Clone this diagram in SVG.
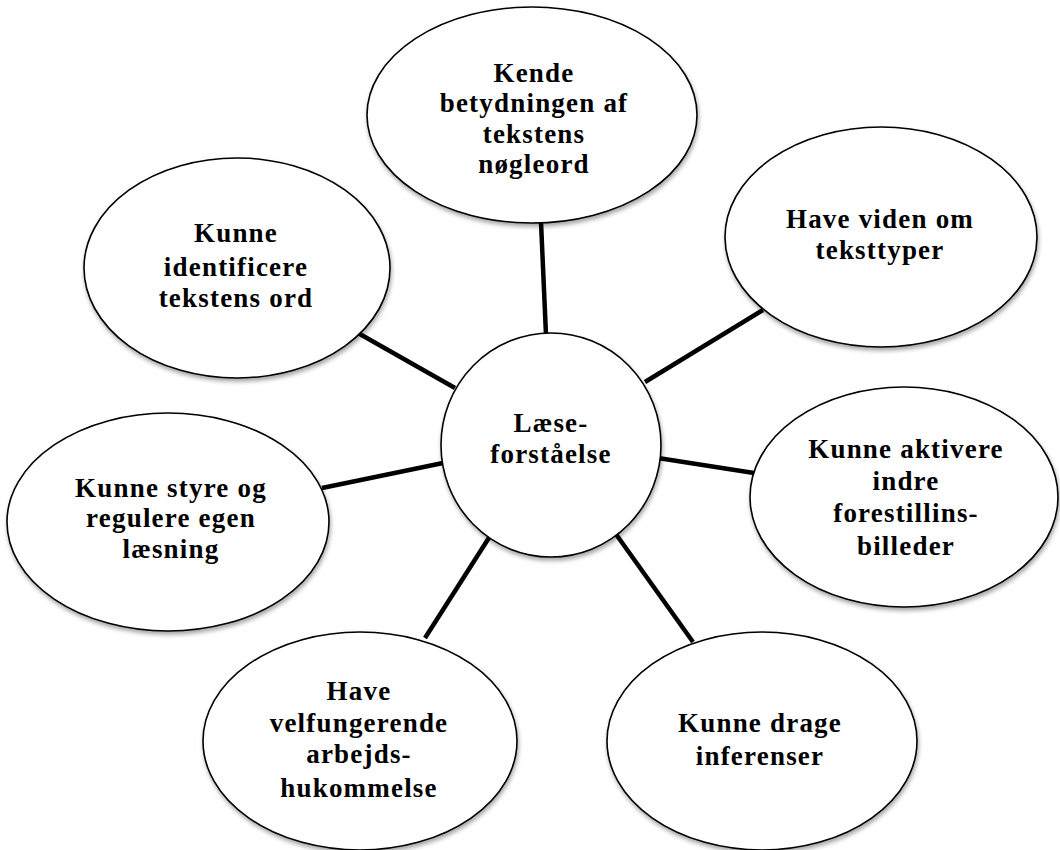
<svg xmlns="http://www.w3.org/2000/svg" width="1060" height="850" viewBox="0 0 1060 850">
<defs>
<filter id="sh" x="-10%" y="-10%" width="120%" height="125%">
<feDropShadow dx="1" dy="3" stdDeviation="2" flood-color="#000" flood-opacity="0.35"/>
</filter>
</defs>
<style>
.n{fill:#fff;stroke:#000;stroke-width:1.6;filter:url(#sh)}
.t{font-family:"Liberation Serif","Times New Roman",serif;font-weight:bold;font-size:27px;letter-spacing:1.2px;fill:#000;text-anchor:middle}
.c line{stroke:#000;stroke-width:4.5}
</style>
<rect width="1060" height="850" fill="#fff"/>
<g class="c" id="connectors">
<line x1="541" y1="222" x2="546" y2="335"/>
<line x1="358" y1="333" x2="455" y2="388"/>
<line x1="763" y1="310" x2="645" y2="382"/>
<line x1="322" y1="488" x2="443" y2="463"/>
<line x1="754" y1="473" x2="658" y2="458"/>
<line x1="492" y1="533" x2="425" y2="638"/>
<line x1="613" y1="530" x2="693" y2="642"/>
</g>
<g id="center">
<ellipse class="n" cx="551" cy="445" rx="110" ry="112"/>
<text class="t" x="551" y="432">Læse-</text>
<text class="t" x="551" y="463">forståelse</text>
</g>
<g id="top">
<ellipse class="n" cx="532" cy="115" rx="165" ry="108"/>
<text class="t" x="534" y="82">Kende</text>
<text class="t" x="534" y="112">betydningen af</text>
<text class="t" x="534" y="143">tekstens</text>
<text class="t" x="534" y="173">nøgleord</text>
</g>
<g id="upperleft">
<ellipse class="n" cx="237" cy="268" rx="153" ry="110"/>
<text class="t" x="236" y="242">Kunne</text>
<text class="t" x="236" y="276">identificere</text>
<text class="t" x="236" y="307">tekstens ord</text>
</g>
<g id="upperright">
<ellipse class="n" cx="881" cy="237" rx="156" ry="110"/>
<text class="t" x="880" y="228">Have viden om</text>
<text class="t" x="880" y="259">teksttyper</text>
</g>
<g id="left">
<ellipse class="n" cx="168" cy="522" rx="161" ry="109"/>
<text class="t" x="171" y="497">Kunne styre og</text>
<text class="t" x="171" y="527">regulere egen</text>
<text class="t" x="171" y="558">læsning</text>
</g>
<g id="right">
<ellipse class="n" cx="904" cy="497" rx="154" ry="110"/>
<text class="t" x="906" y="458">Kunne aktivere</text>
<text class="t" x="906" y="490">indre</text>
<text class="t" x="906" y="522">forestillins-</text>
<text class="t" x="906" y="555">billeder</text>
</g>
<g id="bottomleft">
<ellipse class="n" cx="360" cy="741" rx="157" ry="109"/>
<text class="t" x="359" y="700">Have</text>
<text class="t" x="359" y="732">velfungerende</text>
<text class="t" x="359" y="763">arbejds-</text>
<text class="t" x="359" y="797">hukommelse</text>
</g>
<g id="bottomright">
<ellipse class="n" cx="762" cy="741" rx="155" ry="109"/>
<text class="t" x="760" y="732">Kunne drage</text>
<text class="t" x="760" y="765">inferenser</text>
</g>
</svg>
